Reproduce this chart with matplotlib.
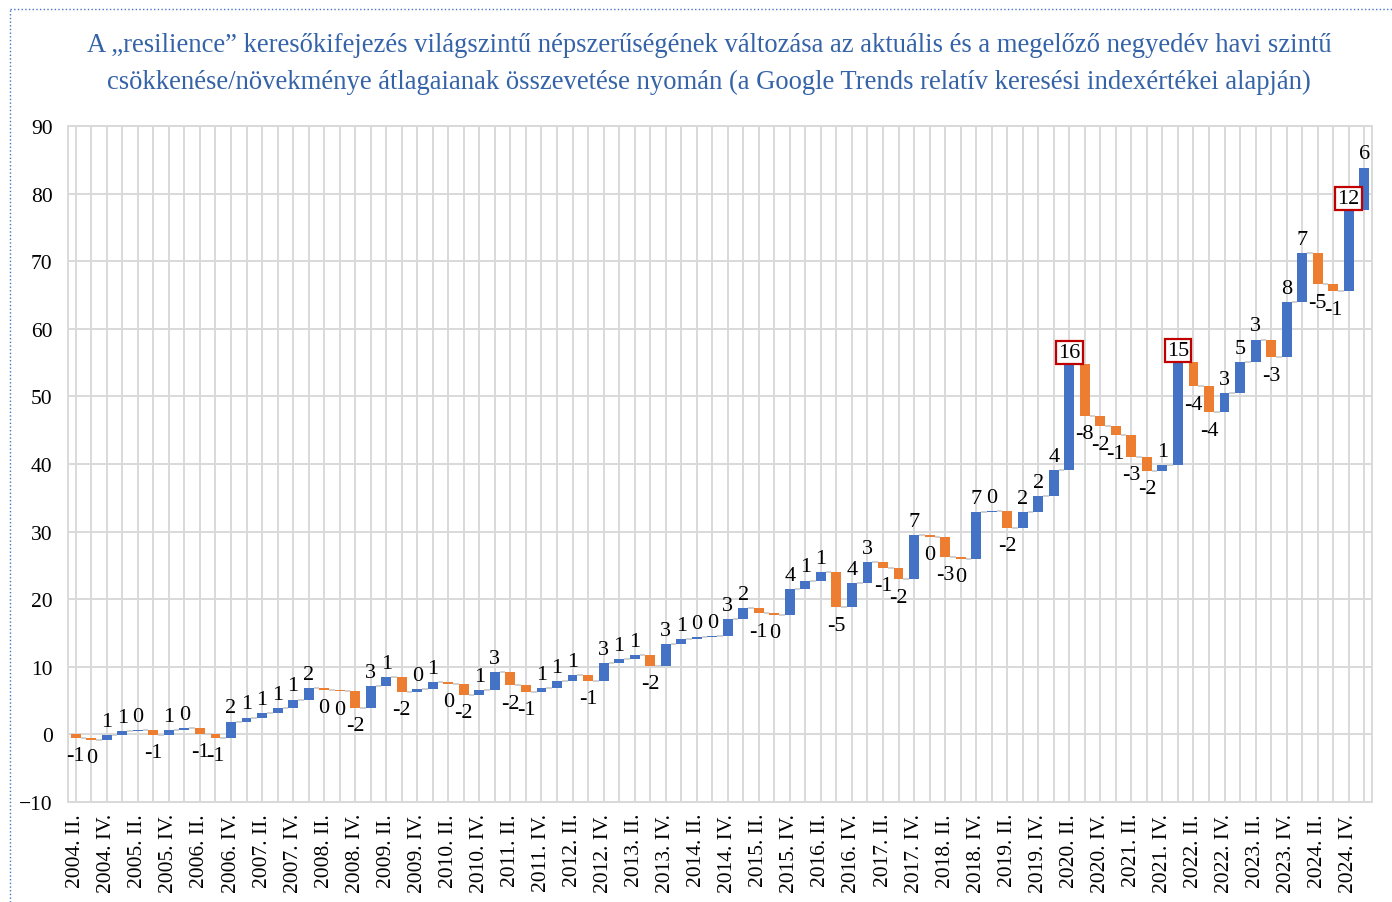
import numpy as np
import matplotlib
matplotlib.use("Agg")
import matplotlib.pyplot as plt
from matplotlib.lines import Line2D

plt.rcParams['font.family'] = ['Liberation Serif', 'DejaVu Serif']

# quarterly change of the search index (2004 Q2 - 2025 Q1)
years = list(range(2004, 2026))
roman = ['I.', 'II.', 'III.', 'IV.']
categories = [f"{y}. {q}" for y in years for q in roman][1:85]

changes = [-0.55, -0.25, 0.75, 0.6, 0.15, -0.8, 0.8, 0.2, -0.85, -0.55,
           2.4, 0.6, 0.6, 0.8, 1.25, 1.65, -0.2, -0.25, -2.4, 3.2,
           1.3, -2.2, 0.4, 1.1, -0.25, -1.65, 0.75, 2.65, -2.0, -1.0,
           0.6, 1.0, 0.95, -0.9, 2.6, 0.7, 0.55, -1.6, 3.25, 0.65,
           0.3, 0.2, 2.55, 1.6, -0.8, -0.25, 3.85, 1.25, 1.2, -5.15,
           3.6, 3.1, -0.9, -1.65, 6.55, -0.25, -3.0, -0.3, 6.95, 0.15,
           -2.45, 2.3, 2.35, 3.9, 15.6, -7.6, -1.6, -1.3, -3.2, -2.1,
           0.95, 15.2, -3.6, -3.85, 2.85, 4.6, 3.3, -2.6, 8.1, 7.3,
           -4.6, -1.05, 12.0, 6.3]

boxed = ["2020. II.", "2022. I.", "2024. IV."]

title_lines = ["A „resilience” keresőkifejezés világszintű népszerűségének változása az aktuális és a megelőző negyedév havi szintű",
               "csökkenése/növekménye átlagaianak összevetése nyomán (a Google Trends relatív keresési indexértékei alapján)"]

blue = '#4472C4'
orange = '#ED7D31'
grid_c = '#D9D9D9'

ch = np.array(changes)
ends = np.cumsum(ch)
starts = ends - ch
x = np.arange(len(ch))
w = 0.64

fig = plt.figure(figsize=(13.92, 9.03), dpi=100)
ax = fig.add_axes([68/1392, 1-803/903, (1372-68)/1392, (803-127)/903])

colors = [blue if v >= 0 else orange for v in ch]
ax.bar(x, np.abs(ch), bottom=np.minimum(starts, ends), width=w, color=colors, zorder=3)

# connector lines
ax.hlines(ends[:-1], x[:-1] + w/2, x[1:] - w/2, color='#D0D0D0', lw=1.4, zorder=2)

# data labels
for i, v in enumerate(ch):
    lab = int(np.sign(v) * np.floor(abs(v) + 0.5))
    if v >= 0:
        y, va, dy = ends[i], 'bottom', 3
    else:
        y, va, dy = ends[i], 'top', -6
    kw = {}
    if categories[i] in boxed:
        kw['bbox'] = dict(boxstyle='square,pad=0.1', fc='white', ec='#C00000', lw=1.6)
        dy = 1.5
    ax.annotate(str(lab), (i, y), xytext=(0, dy), textcoords='offset points',
                ha='center', va=va, fontsize=16, color='black', zorder=5, **kw)

ax.set_xlim(-0.5, len(ch) - 0.5)
ax.set_ylim(-10, 90)
ax.set_yticks(np.arange(-10, 91, 10))
ax.set_xticks(x)
ax.set_xticklabels([c if i % 2 == 0 else '' for i, c in enumerate(categories)], rotation=90)
ax.tick_params(length=0, labelsize=15.5)
ax.tick_params(axis='y', pad=11)
ax.tick_params(axis='x', pad=8)
ax.set_axisbelow(True)
ax.grid(True, color=grid_c, lw=1.4, zorder=0)
for s in ax.spines.values():
    s.set_color(grid_c)
    s.set_linewidth(1.4)

for k, line in enumerate(title_lines):
    fig.text(709/1392, 1-(45 + 37*k)/903, line, ha='center', va='center',
             fontsize=19.2, color='#3563A8')

# dotted frame (left and top)
fig.add_artist(Line2D([10/1392, 10/1392], [0, 1-10/903], color='#4472C4', lw=1, ls=':'))
fig.add_artist(Line2D([10/1392, 1], [1-10/903, 1-10/903], color='#4472C4', lw=1, ls=':'))

fig.savefig('out.png', dpi=100)
